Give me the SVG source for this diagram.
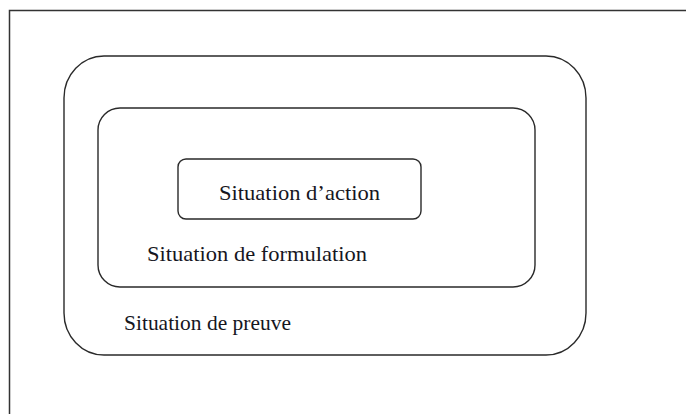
<svg xmlns="http://www.w3.org/2000/svg" width="686" height="414" viewBox="0 0 686 414">
<style>
.box{fill:none;stroke:#2a2a2a;stroke-width:1.4}
.lbl{font-family:"Liberation Serif","Times New Roman",serif;font-size:21px;fill:#16161e}
</style>
<rect width="686" height="414" fill="#ffffff"/>
<g id="frame">
<path d="M9.5,414 V10.5 H686" fill="none" stroke="#333" stroke-width="1.5"/>
</g>
<g id="preuve">
<rect class="box" x="64" y="56" width="522" height="299" rx="40" ry="42"/>
<text class="lbl" x="124" y="330" textLength="167" lengthAdjust="spacingAndGlyphs">Situation de preuve</text>
</g>
<g id="formulation">
<rect class="box" x="98" y="108" width="437" height="179" rx="22" ry="22"/>
<text class="lbl" x="147" y="261" textLength="220" lengthAdjust="spacingAndGlyphs">Situation de formulation</text>
</g>
<g id="action">
<rect class="box" x="178" y="159" width="243" height="60" rx="8" ry="8"/>
<text class="lbl" x="219" y="200" textLength="161" lengthAdjust="spacingAndGlyphs">Situation d’action</text>
</g>
<g id="connectors"></g>
</svg>
